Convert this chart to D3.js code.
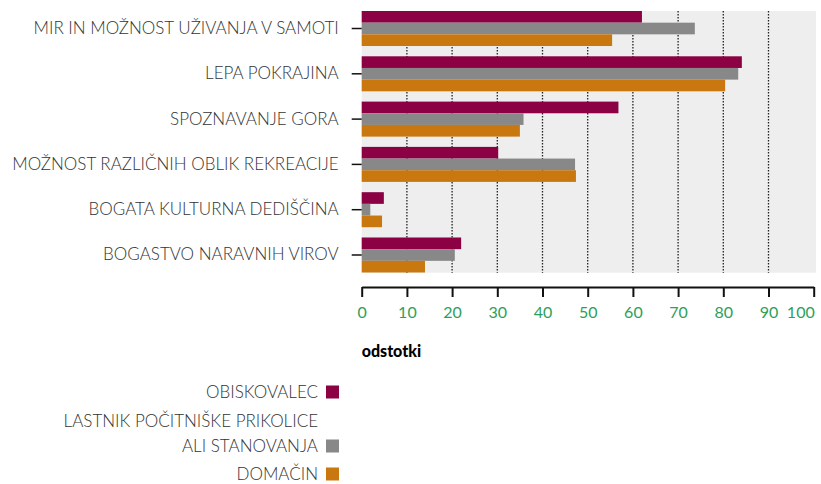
<!DOCTYPE html>
<html>
<head>
<meta charset="utf-8">
<script src="https://cdn.jsdelivr.net/npm/d3@7"></script>
<style>
  body { margin: 0; background: #fff; }
  svg text { font-family: Lato, "Open Sans", sans-serif; }
</style>
</head>
<body>
<svg id="chart" width="821" height="484"></svg>
<script>
var categories = [
  "MIR IN MOŽNOST UŽIVANJA V SAMOTI",
  "LEPA POKRAJINA",
  "SPOZNAVANJE GORA",
  "MOŽNOST RAZLIČNIH OBLIK REKREACIJE",
  "BOGATA KULTURNA DEDIŠČINA",
  "BOGASTVO NARAVNIH VIROV"
];
var series = ["OBISKOVALEC", "LASTNIK POČITNIŠKE PRIKOLICE ALI STANOVANJA", "DOMAČIN"];
var legendLines = [["OBISKOVALEC"], ["LASTNIK POČITNIŠKE PRIKOLICE", "ALI STANOVANJA"], ["DOMAČIN"]];
var obiskovalec = [62.0, 84.1, 56.8, 30.2, 4.9, 22.0];
var lastnik     = [73.7, 83.3, 35.8, 47.2, 1.9, 20.6];
var domacin     = [55.4, 80.4, 35.0, 47.4, 4.5, 14.0];
var ticks = [0, 10, 20, 30, 40, 50, 60, 70, 80, 90, 100];
var axisTitle = "odstotki";

var colors = ["#8c0044", "#888888", "#c8780f"];
var values = [obiskovalec, lastnik, domacin];

var svg = d3.select("#chart");

var x = d3.scaleLinear().domain([0, 100]).range([361.7, 813.7]);
var y = d3.scaleBand().domain(categories).range([11, 272.5]).paddingInner(0.227).paddingOuter(0);
var ySub = d3.scaleBand().domain(series).range([0, y.bandwidth()]);

// background
svg.append("rect")
    .attr("x", x(0))
    .attr("y", 11)
    .attr("width", 816 - x(0))
    .attr("height", 272.7 - 11)
    .attr("fill", "#eeeeee");

// dotted grid
svg.append("g")
    .selectAll("line")
    .data(ticks.filter(function(d) { return d > 0 && d < 100; }))
    .enter().append("line")
    .attr("x1", function(d) { return x(d); })
    .attr("x2", function(d) { return x(d); })
    .attr("y1", 11)
    .attr("y2", 272.7)
    .attr("stroke", "#222")
    .attr("stroke-width", 1.3)
    .attr("stroke-dasharray", "1.5,1.5");

// bars
var rows = categories.map(function(c, i) {
  return { cat: c, vals: series.map(function(s, j) { return { s: s, v: values[j][i], c: colors[j] }; }) };
});

var groups = svg.append("g")
    .selectAll("g")
    .data(rows)
    .enter().append("g")
    .attr("transform", function(d) { return "translate(0," + y(d.cat) + ")"; });

groups.selectAll("rect")
    .data(function(d) { return d.vals; })
    .enter().append("rect")
    .attr("x", x(0))
    .attr("y", function(d) { return ySub(d.s); })
    .attr("height", ySub.bandwidth())
    .attr("width", function(d) { return x(d.v) - x(0); })
    .attr("fill", function(d) { return d.c; });

// y axis (labels + small ticks)
var yAxis = svg.append("g")
    .attr("transform", "translate(" + x(0) + ",0)")
    .call(d3.axisLeft(y).tickSize(10).tickPadding(13));
yAxis.select(".domain").remove();
yAxis.selectAll(".tick line").attr("stroke", "#111").attr("stroke-width", 1.5);
yAxis.selectAll(".tick text")
    .attr("fill", "#333")
    .style("font-size", "17px")
    .style("font-weight", 300);

// x axis
var xAxis = svg.append("g")
    .attr("transform", "translate(0,287)")
    .call(d3.axisBottom(x).tickValues(ticks).tickSize(10).tickSizeOuter(0).tickPadding(10));
xAxis.select(".domain").attr("stroke", "#111").attr("stroke-width", 2);
xAxis.selectAll(".tick line").attr("stroke", "#111").attr("stroke-width", 2);
xAxis.selectAll(".tick text")
    .attr("fill", "#2ca05a")
    .style("font-size", "16px")
    .style("font-weight", 400)
    .attr("text-anchor", function(d) { return d === 100 ? "end" : "middle"; })
    .attr("x", function(d) { return d === 100 ? 0.5 : 0; });

svg.append("text")
    .attr("x", x(0))
    .attr("y", 357)
    .attr("fill", "#000")
    .style("font-size", "16px")
    .style("font-weight", 900)
    .text(axisTitle);

// legend
var legendY = [392, 446, 474];
var legend = svg.append("g")
    .selectAll("g")
    .data(series)
    .enter().append("g")
    .attr("transform", function(d, i) { return "translate(0," + legendY[i] + ")"; });

legend.append("rect")
    .attr("x", 326)
    .attr("y", -6.5)
    .attr("width", 13)
    .attr("height", 13)
    .attr("fill", function(d, i) { return colors[i]; });

legend.each(function(d, i) {
  var lines = legendLines[i];
  var t = d3.select(this).append("text")
      .attr("x", 318)
      .attr("text-anchor", "end")
      .attr("fill", "#333")
      .style("font-size", "17px")
      .style("font-weight", 300);
  lines.forEach(function(l, k) {
    t.append("tspan")
        .attr("x", 318)
        .attr("y", (k - lines.length + 1) * 25)
        .attr("dy", "0.35em")
        .text(l);
  });
});
</script>
</body>
</html>
